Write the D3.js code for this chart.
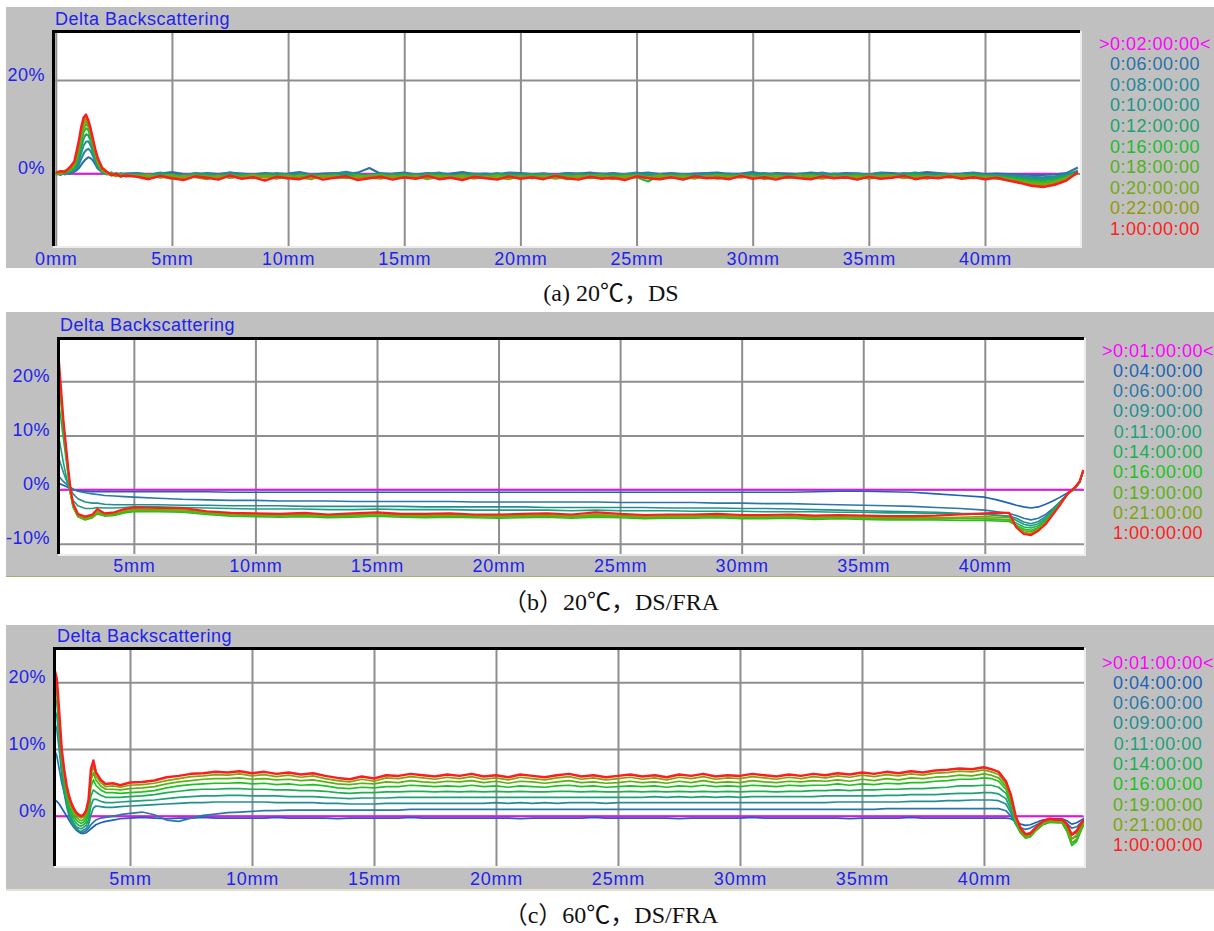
<!DOCTYPE html>
<html>
<head>
<meta charset="utf-8">
<script src="https://cdn.jsdelivr.net/npm/d3@7/dist/d3.min.js"></script>
<style>
  html, body { margin: 0; padding: 0; background: #ffffff; }
  svg { display: block; }
</style>
</head>
<body>
<svg id="chart" width="1214" height="931"></svg>
<script>
// ---------- Tick labels ----------
const xTicksA = [0, 5, 10, 15, 20, 25, 30, 35, 40];
const xTicksBC = [5, 10, 15, 20, 25, 30, 35, 40];
const yTicksA = [0, 20];
const yTicksB = [-10, 0, 10, 20];
const yTicksC = [0, 10, 20];

// ---------- Scan times (legend) ----------
const legendA = ['>0:02:00:00<', '0:06:00:00', '0:08:00:00', '0:10:00:00', '0:12:00:00',
                 '0:16:00:00', '0:18:00:00', '0:20:00:00', '0:22:00:00', '1:00:00:00'];
const legendB = ['>0:01:00:00<', '0:04:00:00', '0:06:00:00', '0:09:00:00', '0:11:00:00',
                 '0:14:00:00', '0:16:00:00', '0:19:00:00', '0:21:00:00', '1:00:00:00'];
const legendC = legendB.slice();

const colorsA = ['#ff00ff', '#2a72a6', '#27879c', '#22948a', '#20a06c', '#1fbb2c', '#4fb21c', '#74a814', '#8f9a0c', '#ff1c1c'];
const colorsBC = ['#ff00ff', '#1e62b6', '#2a78a8', '#238e90', '#1fa07a', '#1daf52', '#1ec21e', '#5cb014', '#7ea40a', '#ff1c1c'];

const captionA = '(a) 20℃，DS';
const captionB = '（b）20℃，DS/FRA';
const captionC = '（c）60℃，DS/FRA';

// ---------- Panel (a): 20℃, DS ----------
// sample positions along the tube height (mm)
const mmA = [0,0.2,0.4,0.6,0.8,0.9,1.0,1.1,1.2,1.3,1.4,1.5,1.6,1.7,1.8,2.0,2.2,2.4,2.6,2.8,3.0,
  3.5,4,4.5,5,5.5,6,6.5,7,7.5,8,8.5,9,9.5,10,10.5,11,11.5,12,12.5,13,13.5,14,14.5,15,15.5,16,16.5,17,17.5,18,
  18.5,19,19.5,20,20.5,21,21.5,22,22.5,23,23.5,24,24.5,25,25.5,26,26.5,27,27.5,28,28.5,29,29.5,30,30.5,31,31.5,32,
  32.5,33,33.5,34,34.5,35,35.5,36,36.5,37,37.5,38,38.5,39,39.5,40,40.5,41,41.5,42,42.5,43,43.5,44];
const refMmA = [0, 44];
const refA = [0, 0];

const a06 = [0.1,-0.3,0.2,0.0,0.4,0.7,1.2,1.9,2.6,3.1,3.5,3.3,2.8,2.0,1.1,0.3,-0.1,0.2,-0.3,-0.1,0.0,
  0.1,-0.2,0.0,0.3,-0.1,-0.3,0.1,-0.1,0.2,0.0,
  -0.2,0.1,-0.1,0.0,0.3,-0.2,0.0,0.1,-0.1,0.2,
  1.2,-0.1,0.0,0.2,-0.2,0.1,-0.1,0.0,0.3,-0.1,
  0.0,-0.2,0.2,0.1,-0.1,0.0,-0.3,0.1,0.0,0.2,
  -0.1,0.1,-0.2,0.0,0.2,-0.1,0.1,-0.2,0.0,0.1,
  0.2,-0.1,0.0,0.3,-0.2,0.1,0.0,-0.1,0.2,0.0,
  -0.1,0.1,0.0,-0.2,0.2,0.1,-0.1,0.0,0.3,0.1,
  -0.1,0.0,0.2,-0.1,0.0,-0.1,-0.2,-0.3,-0.3,-0.2,0.1,1.3];
const a08 = [-0.1,0.3,-0.2,0.5,0.6,1.1,2.0,3.2,4.3,5.0,5.3,4.8,3.8,2.6,1.4,0.2,0.3,-0.2,-0.5,0.1,-0.4,
  0.0,-0.3,0.2,-0.2,-0.4,0.1,-0.1,-0.3,0.2,-0.2,
  -0.4,0.0,-0.1,-0.3,0.1,-0.2,-0.4,0.0,0.4,-0.1,
  -0.3,0.1,-0.2,0.0,-0.4,-0.1,0.2,-0.3,-0.1,0.0,
  -0.2,-0.4,0.1,-0.1,-0.3,0.0,-0.2,0.1,-0.3,-0.1,
  0.0,-0.3,-0.1,0.2,-0.2,-0.4,0.0,-0.1,-0.3,0.1,
  -0.2,0.0,-0.3,-0.1,0.1,-0.2,-0.4,0.0,-0.1,0.2,
  -0.3,-0.1,0.0,-0.2,0.1,-0.3,-0.1,0.2,-0.2,0.0,
  -0.3,-0.1,0.1,-0.2,-0.3,-0.4,-0.5,-0.7,-0.8,-0.6,-0.2,0.6];
const a10 = [0.2,-0.1,0.4,0.3,0.8,1.6,2.9,4.5,6.0,6.8,6.9,6.0,4.6,3.0,1.6,0.4,0.0,-0.4,0.1,-0.3,-0.2,
  -0.1,-0.4,0.1,-0.3,-0.5,-0.2,0.0,-0.4,-0.6,-0.1,
  -0.3,-0.5,0.1,-0.2,-0.4,-0.1,-0.6,-0.3,0.0,-0.4,
  -0.2,-0.5,-0.1,-0.3,-0.6,0.0,-0.2,-0.4,-0.1,-0.5,
  -0.3,0.1,-0.4,-0.2,-0.5,-0.1,-0.3,-0.6,0.0,-0.2,
  -0.4,-0.1,-0.5,-0.3,0.0,-0.2,-0.6,-0.1,-0.4,-0.3,
  -0.1,-0.5,-0.2,0.0,-0.4,-0.3,-0.6,-0.1,-0.2,-0.4,
  0.0,-0.3,-0.5,-0.1,-0.2,-0.4,0.1,-0.3,-0.5,-0.2,
  -0.1,-0.4,-0.2,-0.3,-0.5,-0.6,-0.8,-1.0,-1.1,-0.9,-0.4,0.5];
const a12 = [-0.3,0.2,0.1,0.7,1.1,2.2,3.8,5.8,7.5,8.4,8.2,7.0,5.2,3.4,1.9,0.3,-0.2,0.1,-0.4,0.0,-0.6,
  -0.2,-0.5,0.0,-0.6,-0.3,-0.1,-0.7,-0.4,-0.2,-0.5,
  -0.6,-0.1,-0.4,-0.3,-0.7,-0.2,-0.5,-0.1,-0.6,-0.3,
  -0.4,-0.7,-0.2,-0.5,-0.1,-0.6,-0.3,-0.4,-0.7,-0.2,
  -0.5,-0.2,-0.6,-0.3,-0.1,-0.5,-0.4,-0.7,-0.2,-0.4,
  -0.6,-0.3,-0.1,-0.5,-0.4,-0.7,-0.2,-0.5,-0.3,-0.6,
  -0.2,-0.4,-0.7,-0.3,-0.5,-0.1,-0.6,-0.4,-0.2,-0.5,
  -0.3,-0.6,-0.2,-0.4,-0.7,-0.3,-0.5,-0.1,-0.4,-0.6,
  -0.2,-0.5,-0.3,-0.4,-0.6,-0.8,-1.0,-1.3,-1.4,-1.2,-0.6,0.3];
const a16 = [0.1,0.0,0.6,0.5,1.4,2.8,4.7,7.0,8.9,9.7,9.3,7.8,5.8,3.8,2.2,0.5,0.2,-0.3,0.0,-0.5,-0.3,
  -0.5,-0.2,-0.7,-0.4,-0.8,-0.3,-0.6,-0.5,-0.9,-0.4,
  -0.2,-0.7,-0.5,-0.8,-0.3,-0.6,-0.4,-1.0,-0.5,-0.3,
  -0.7,-0.4,-0.6,-0.2,-0.8,-0.5,-0.3,-0.7,-0.4,-0.6,
  -0.9,-0.3,-0.5,-0.7,-0.4,-0.5,-0.6,-0.3,-0.8,-0.5,
  -0.3,-0.6,-0.4,-0.8,-1.7,-0.2,-0.7,-0.4,-0.6,-0.9,
  -0.4,-0.5,-0.3,-0.7,-0.5,-0.8,-0.4,-0.6,-0.3,-0.7,
  -0.5,-0.8,-0.3,-0.6,-0.4,-0.7,-0.5,-0.3,-0.8,-0.5,
  -0.4,-0.6,-0.3,-0.7,-0.6,-0.9,-1.3,-1.6,-1.8,-1.5,-0.8,0.1];
const a18 = [-0.2,0.4,0.2,0.9,1.7,3.3,5.4,7.8,9.8,10.6,10.0,8.3,6.2,4.2,2.5,0.6,-0.1,0.2,-0.6,-0.1,-0.5,
  -0.3,-0.8,-0.5,-0.2,-0.9,-0.6,-0.4,-0.8,-0.3,-0.7,
  -0.9,-0.4,-0.6,-0.3,-1.0,-0.5,-0.7,-0.4,-0.9,-0.6,
  -0.5,-0.2,-0.8,-0.6,-0.4,-0.9,-0.5,-0.7,-0.3,-0.8,
  -0.6,-1.0,-0.4,-0.7,-0.5,-0.8,-0.3,-0.6,-0.9,-0.5,
  -0.4,-0.8,-0.6,-0.3,-0.9,-0.5,-0.7,-0.4,-0.8,-0.6,
  -0.3,-0.7,-0.5,-0.9,-0.4,-0.6,-0.8,-0.3,-0.7,-0.5,
  -0.8,-0.4,-0.6,-0.9,-0.5,-0.3,-0.7,-0.6,-0.4,-0.8,
  -0.5,-0.3,-0.7,-0.6,-0.8,-1.1,-1.5,-1.8,-2.0,-1.7,-0.9,0.0];
const a20 = [0.3,-0.2,0.5,0.8,2.0,3.8,6.0,8.6,10.6,11.3,10.5,8.8,6.6,4.6,2.8,0.8,0.3,-0.4,-0.2,-0.7,-0.2,
  -0.6,-0.3,-0.9,-0.5,-1.0,-0.4,-0.7,-1.0,-0.5,-0.8,
  -0.3,-0.9,-0.6,-1.1,-0.4,-0.7,-0.9,-0.5,-0.8,-1.0,
  -0.4,-0.7,-0.9,-0.6,-1.0,-0.3,-0.8,-0.6,-1.1,-0.5,
  -0.8,-0.4,-0.9,-0.7,-1.0,-0.5,-0.6,-1.2,-0.7,-0.4,
  -0.9,-0.6,-1.0,-0.5,-0.8,-0.4,-0.9,-0.7,-1.1,-0.5,
  -0.6,-0.9,-0.4,-0.8,-1.0,-0.5,-0.7,-0.9,-0.4,-0.8,
  -0.6,-0.9,-1.0,-0.4,-0.7,-0.8,-0.5,-1.0,-0.6,-0.8,
  -0.5,-0.9,-0.6,-1.0,-0.8,-1.2,-1.7,-2.1,-2.3,-1.9,-1.0,0.2];
const a22 = [0.0,0.3,0.6,1.0,2.3,4.2,6.6,9.3,11.3,11.9,11.0,9.1,7.0,4.9,3.1,1.0,0.1,-0.2,-0.5,-0.3,-0.6,
  -0.4,-0.9,-0.6,-1.1,-0.5,-0.8,-1.2,-0.4,-0.9,-0.7,
  -1.0,-0.5,-1.1,-0.6,-0.9,-1.2,-0.4,-0.8,-1.0,-0.6,
  -0.9,-1.1,-0.5,-1.0,-0.7,-1.2,-0.6,-0.8,-0.5,-1.1,
  -0.7,-0.9,-1.2,-0.5,-1.0,-0.6,-1.1,-0.8,-0.5,-1.0,
  -0.8,-1.2,-0.6,-0.9,-0.7,-1.0,-0.5,-1.1,-0.9,-0.6,
  -1.1,-0.7,-0.9,-0.5,-1.2,-0.8,-1.0,-0.6,-0.9,-1.1,
  -0.7,-1.0,-0.6,-1.1,-0.8,-0.5,-1.0,-0.7,-1.1,-0.6,
  -0.9,-0.7,-1.0,-0.8,-1.1,-1.4,-1.9,-2.4,-2.6,-2.1,-1.2,0.1];
const a100 = [0.2,0.5,0.4,1.3,2.6,4.8,7.2,10.0,12.0,12.6,11.4,9.6,7.4,5.2,3.4,1.2,0.4,-0.3,-0.1,-0.6,-0.4,
  -0.7,-1.2,-0.5,-1.0,-1.4,-0.6,-0.9,-1.3,-0.4,-1.1,
  -0.8,-1.5,-0.7,-1.0,-1.2,-0.5,-1.3,-0.9,-0.6,-1.4,
  -1.0,-0.7,-1.3,-0.8,-1.1,-0.5,-1.2,-0.9,-1.4,-0.7,
  -1.0,-1.3,-0.6,-1.1,-0.8,-1.2,-0.5,-1.0,-1.3,-0.7,
  -1.1,-0.9,-1.4,-0.6,-1.0,-1.2,-0.8,-1.3,-0.6,-1.0,
  -0.9,-1.2,-0.5,-1.1,-0.8,-1.3,-0.7,-1.0,-1.2,-0.6,
  -1.0,-0.8,-1.3,-0.7,-1.1,-0.9,-0.5,-1.2,-0.8,-1.0,
  -0.6,-1.1,-0.8,-1.2,-0.9,-1.5,-2.0,-2.6,-2.9,-2.4,-1.5,0.3];

// ---------- Panel (b): 20℃, DS/FRA ----------
const mmB = [1.9,2.0,2.1,2.2,2.3,2.4,2.5,2.7,3.0,3.3,3.5,3.8,4.2,4.6,
  5,6,7,8,9,10,11,12,13,14,15,16,17,18,19,20,21,22,23,24,25,26,27,28,29,30,31,32,33,34,35,36,37,38,39,40,
  40.5,41,41.3,41.6,41.9,42.2,42.5,42.8,43.1,43.4,43.7,43.9,44.05];
const refMmB = [1.9, 44.05];
const refB = [0, 0];

const b04 = [1.2,1.0,0.8,0.6,0.4,0.2,0.0,-0.2,-0.3,-0.4,-0.4,-0.4,-0.4,-0.4,
  -0.4,-0.4,-0.4,-0.4,-0.5,-0.5,-0.5,-0.5,-0.5,-0.5,-0.5,-0.5,-0.5,-0.5,-0.5,-0.5,-0.5,-0.5,-0.5,-0.5,
  -0.5,-0.5,-0.5,-0.5,-0.5,-0.5,-0.5,-0.5,-0.4,-0.3,-0.3,-0.4,-0.5,-0.8,-1.1,-1.4,
  -1.9,-2.5,-2.9,-3.2,-3.4,-3.2,-2.7,-2.1,-1.4,-0.6,0.1,1.3,3.4];
const b06 = [2.5,2.0,1.5,1.1,0.7,0.4,0.1,-0.3,-0.6,-0.8,-0.9,-1.1,-1.2,-1.3,
  -1.4,-1.6,-1.8,-1.9,-2.0,-2.0,-2.1,-2.1,-2.1,-2.2,-2.2,-2.2,-2.2,-2.2,-2.3,-2.3,-2.3,-2.3,-2.3,-2.3,
  -2.4,-2.4,-2.4,-2.4,-2.5,-2.5,-2.6,-2.6,-2.7,-2.8,-2.9,-3.0,-3.1,-3.3,-3.5,-3.8,
  -4.1,-4.4,-4.8,-5.3,-5.6,-5.3,-4.6,-3.5,-2.2,-0.8,0.1,1.3,3.4];
const b09 = [6.0,4.6,3.2,2.0,0.9,0.0,-0.8,-1.7,-2.3,-2.5,-2.5,-2.7,-2.8,-2.8,
  -2.8,-2.8,-2.9,-2.9,-3.0,-3.0,-3.0,-3.1,-3.1,-3.1,-3.1,-3.1,-3.2,-3.2,-3.2,-3.2,-3.2,-3.3,-3.3,-3.3,
  -3.3,-3.3,-3.4,-3.4,-3.4,-3.5,-3.5,-3.6,-3.7,-3.8,-3.9,-4.0,-4.1,-4.2,-4.4,-4.5,
  -4.7,-4.9,-5.3,-6.0,-6.3,-5.9,-5.0,-3.7,-2.3,-0.8,0.2,1.4,3.5];
const b11 = [10.0,7.5,5.0,2.8,0.8,-0.9,-2.0,-3.0,-3.5,-3.5,-3.3,-3.4,-3.4,-3.3,
  -3.2,-3.2,-3.3,-3.4,-3.5,-3.6,-3.6,-3.6,-3.7,-3.7,-3.6,-3.7,-3.7,-3.7,-3.8,-3.8,-3.8,-3.8,-3.9,-3.8,
  -3.9,-3.9,-3.9,-4.0,-4.0,-4.0,-4.1,-4.1,-4.1,-4.2,-4.2,-4.3,-4.3,-4.4,-4.5,-4.6,
  -4.8,-5.0,-5.7,-6.4,-6.7,-6.3,-5.3,-3.9,-2.4,-0.8,0.2,1.4,3.5];
const b14 = [16.0,13.0,9.5,6.0,2.4,-0.8,-3.0,-4.6,-5.2,-4.9,-4.4,-4.6,-4.5,-4.1,
  -3.9,-3.9,-4.0,-4.3,-4.5,-4.6,-4.7,-4.6,-4.8,-4.7,-4.6,-4.7,-4.8,-4.7,-4.8,-4.9,-4.8,-4.8,-4.9,-4.8,
  -4.9,-5.0,-4.9,-5.0,-4.9,-5.0,-5.0,-5.0,-5.1,-5.1,-5.1,-5.2,-5.2,-5.3,-5.3,-5.4,
  -5.5,-5.6,-6.2,-6.9,-7.1,-6.7,-5.6,-4.1,-2.5,-0.9,0.2,1.4,3.5];
const b16 = [20.0,16.0,11.2,7.0,2.8,-1.0,-3.3,-5.0,-5.6,-5.2,-4.5,-4.9,-4.8,-4.3,
  -4.1,-4.1,-4.2,-4.6,-4.9,-5.0,-5.1,-5.0,-5.2,-5.1,-4.9,-5.1,-5.2,-5.1,-5.2,-5.3,-5.2,-5.1,-5.3,-5.1,
  -5.2,-5.4,-5.3,-5.3,-5.2,-5.4,-5.4,-5.3,-5.5,-5.4,-5.5,-5.6,-5.6,-5.6,-5.7,-5.7,
  -5.8,-5.9,-6.6,-7.3,-7.5,-7.0,-5.8,-4.3,-2.6,-0.9,0.3,1.4,3.5];
const b19 = [22.0,17.2,12.0,7.6,3.2,-0.8,-3.2,-5.0,-5.5,-5.1,-4.3,-4.8,-4.6,-4.1,
  -3.9,-3.9,-4.0,-4.4,-4.7,-4.8,-4.9,-4.8,-5.0,-4.9,-4.7,-4.9,-5.0,-4.9,-5.0,-5.1,-5.0,-4.9,-5.1,-4.9,
  -5.0,-5.2,-5.1,-5.1,-5.0,-5.2,-5.2,-5.1,-5.3,-5.2,-5.3,-5.4,-5.4,-5.4,-5.4,-5.4,
  -5.5,-5.6,-6.8,-7.6,-7.8,-7.2,-6.0,-4.4,-2.7,-0.9,0.3,1.5,3.6];
const b21 = [23.0,18.0,12.5,8.0,3.6,-0.4,-2.9,-4.8,-5.3,-4.9,-4.0,-4.6,-4.4,-3.9,
  -3.6,-3.7,-3.7,-4.2,-4.5,-4.6,-4.7,-4.5,-4.8,-4.6,-4.5,-4.7,-4.8,-4.7,-4.8,-4.9,-4.8,-4.7,-4.9,-4.6,
  -4.8,-5.0,-4.9,-4.9,-4.8,-5.0,-5.0,-4.9,-5.1,-5.0,-5.1,-5.2,-5.2,-5.2,-5.1,-5.0,
  -5.1,-5.2,-6.9,-7.9,-8.1,-7.4,-6.2,-4.5,-2.7,-0.8,0.4,1.5,3.6];
const b100 = [24.8,19.0,13.0,8.5,4.0,0.0,-2.5,-4.5,-5.0,-4.6,-3.6,-4.4,-4.2,-3.6,
  -3.3,-3.4,-3.4,-4.0,-4.3,-4.4,-4.5,-4.3,-4.6,-4.4,-4.2,-4.5,-4.5,-4.4,-4.6,-4.6,-4.5,-4.4,-4.6,-4.2,
  -4.5,-4.7,-4.6,-4.6,-4.5,-4.7,-4.7,-4.6,-4.8,-4.7,-4.8,-4.9,-4.9,-4.8,-4.6,-4.4,
  -4.3,-4.3,-7.0,-8.2,-8.4,-7.6,-6.4,-4.6,-2.8,-0.8,0.4,1.5,3.6];

// ---------- Panel (c): 60℃, DS/FRA ----------
const mmC = [1.9,2.0,2.1,2.2,2.3,2.4,2.5,2.6,2.7,2.8,2.9,3.0,3.1,3.2,3.3,3.4,3.5,3.6,3.8,4.0,4.3,4.6,
  5,5.5,6,6.5,7,7.5,8,8.5,9,9.5,10,10.5,11,11.5,12,12.5,13,13.5,14,14.5,15,15.5,16,16.5,17,17.5,18,18.5,19,19.5,
  20,20.5,21,21.5,22,22.5,23,23.5,24,24.5,25,25.5,26,26.5,27,27.5,28,28.5,29,29.5,30,30.5,31,31.5,32,32.5,33,33.5,
  34,34.5,35,35.5,36,36.5,37,37.5,38,38.5,39,39.5,40,
  40.3,40.6,40.9,41.1,41.3,41.5,41.7,41.9,42.1,42.4,42.7,43.0,43.2,43.4,43.6,43.8,44.0,44.1];
const refMmC = [1.9, 44.05];
const refC = [0, 0];

const c04 = [2.4,2.2,1.8,1.2,0.6,0.0,-0.6,-1.2,-1.7,-2.1,-2.4,-2.6,-2.6,-2.5,-2.2,-1.9,-1.6,-1.3,-1.0,-0.8,-0.6,-0.4,
  -0.3,-0.2,-0.3,-0.4,-0.3,-0.3,-0.2,-0.3,-0.3,-0.3,
  -0.3,-0.3,-0.2,-0.3,-0.3,-0.3,-0.3,-0.4,-0.3,-0.3,
  -0.3,-0.3,-0.3,-0.2,-0.3,-0.3,-0.3,-0.3,-0.3,-0.3,
  -0.3,-0.3,-0.4,-0.3,-0.3,-0.3,-0.3,-0.3,-0.2,-0.3,
  -0.3,-0.3,-0.3,-0.3,-0.3,-0.4,-0.3,-0.3,-0.3,-0.3,
  -0.3,-0.2,-0.3,-0.3,-0.3,-0.3,-0.3,-0.3,-0.3,-0.4,
  -0.3,-0.3,-0.3,-0.3,-0.2,-0.3,-0.3,-0.3,-0.3,-0.3,-0.3,
  -0.3,-0.3,-0.3,-0.4,-0.8,-1.2,-1.4,-1.3,-1.0,-0.6,-0.4,-0.4,-0.4,-0.7,-1.2,-1.0,-0.6,-0.3];
const c06 = [9.9,9.0,7.0,5.0,3.5,2.0,0.5,-0.5,-1.2,-1.8,-2.2,-2.5,-2.4,-2.2,-1.8,-1.3,-0.9,-0.6,-0.3,-0.2,0.0,0.2,
  0.4,0.6,0.2,-0.6,-0.8,-0.3,0.1,0.3,0.5,0.6,
  0.7,0.8,0.8,0.9,0.9,0.9,0.9,0.9,0.9,0.9,
  0.9,0.9,0.9,1.0,1.0,1.0,1.0,1.0,1.0,1.0,
  1.0,1.0,1.0,1.0,1.0,1.0,1.0,1.0,1.0,1.0,
  1.0,1.0,1.0,1.0,1.0,1.0,1.0,1.0,1.0,1.0,
  1.0,1.0,1.0,1.0,1.0,1.0,1.0,1.0,1.0,1.0,
  1.0,1.0,1.1,1.1,1.1,1.1,1.1,1.1,1.1,1.1,1.1,
  1.1,1.1,0.8,0.0,-1.0,-1.7,-2.0,-1.8,-1.4,-0.8,-0.5,-0.6,-0.6,-1.1,-1.8,-1.6,-0.9,-0.5];
const c09 = [14.0,13.0,9.8,6.2,3.5,1.5,0.0,-1.0,-1.6,-2.0,-2.2,-2.3,-2.1,-1.9,-1.3,0.2,1.2,1.5,1.4,1.3,1.3,1.4,
  1.5,1.6,1.7,1.8,1.9,2.0,2.0,2.1,2.1,2.1,
  2.1,2.1,2.0,2.0,2.0,2.0,1.9,1.9,1.8,1.8,
  1.8,1.9,1.9,1.9,1.9,1.9,1.9,1.9,1.9,1.9,
  2.0,1.9,2.0,1.9,2.0,1.9,2.0,2.0,2.0,1.9,
  2.0,2.0,2.0,2.0,2.0,2.0,2.0,2.0,2.0,2.0,
  2.0,2.0,2.0,2.0,2.0,2.0,2.0,2.0,2.1,2.1,
  2.1,2.1,2.1,2.1,2.2,2.2,2.2,2.3,2.3,2.4,2.4,
  2.4,2.3,1.8,0.5,-1.2,-2.2,-2.7,-2.5,-1.9,-1.1,-0.7,-0.8,-0.8,-1.6,-2.8,-2.5,-1.3,-0.8];
const c11 = [16.0,15.0,11.4,7.2,4.3,2.2,0.6,-0.5,-1.1,-1.6,-1.8,-1.9,-1.7,-1.4,-0.6,1.6,2.5,2.5,2.2,2.0,2.0,2.1,
  2.2,2.3,2.4,2.6,2.8,2.9,3.0,3.0,3.1,3.1,
  3.0,3.0,3.0,2.9,2.9,2.9,2.8,2.7,2.6,2.7,
  2.7,2.7,2.8,2.8,2.8,2.8,2.8,2.8,2.8,2.8,
  2.8,2.8,2.8,2.8,2.8,2.8,2.8,2.8,2.8,2.8,
  2.8,2.8,2.8,2.9,2.8,2.9,2.8,2.9,2.8,2.9,
  2.8,2.9,2.9,2.9,2.9,2.9,2.9,3.0,3.0,3.0,
  3.0,3.0,3.1,3.1,3.2,3.2,3.2,3.3,3.4,3.4,3.5,
  3.5,3.3,2.6,1.0,-1.2,-2.4,-3.0,-2.8,-2.1,-1.2,-0.8,-0.9,-0.9,-1.9,-3.4,-3.0,-1.6,-1.0];
const c14 = [18.0,17.0,12.8,8.0,5.0,2.8,1.2,0.1,-0.6,-1.1,-1.4,-1.5,-1.3,-0.9,0.3,3.0,3.9,3.6,3.1,2.8,2.8,2.8,
  2.9,3.0,3.2,3.5,3.7,3.9,4.0,4.0,4.1,4.1,
  4.0,4.0,3.9,3.9,3.8,3.8,3.7,3.5,3.4,3.5,
  3.5,3.6,3.6,3.7,3.7,3.6,3.7,3.6,3.7,3.6,
  3.7,3.6,3.7,3.6,3.6,3.7,3.7,3.6,3.7,3.6,
  3.6,3.7,3.6,3.7,3.6,3.7,3.6,3.7,3.6,3.7,
  3.6,3.7,3.7,3.6,3.7,3.7,3.8,3.8,3.9,3.8,
  3.9,3.9,4.0,4.0,4.1,4.1,4.2,4.3,4.5,4.5,4.6,
  4.6,4.3,3.4,1.6,-1.1,-2.5,-3.2,-3.0,-2.2,-1.3,-0.9,-1.0,-1.0,-2.2,-4.0,-3.6,-1.9,-1.1];
const c16 = [19.5,18.3,13.8,8.7,5.7,3.3,1.7,0.6,-0.1,-0.6,-0.9,-1.1,-0.9,-0.4,1.0,4.4,5.4,4.6,3.9,3.5,3.5,3.4,
  3.5,3.6,3.8,4.2,4.5,4.7,4.8,4.9,4.9,5.0,
  4.8,4.9,4.7,4.8,4.6,4.7,4.5,4.2,4.1,4.3,
  4.2,4.4,4.4,4.6,4.5,4.4,4.5,4.4,4.6,4.4,
  4.5,4.3,4.5,4.4,4.3,4.5,4.6,4.4,4.5,4.3,
  4.4,4.5,4.4,4.5,4.3,4.5,4.4,4.6,4.4,4.5,
  4.4,4.6,4.5,4.4,4.6,4.5,4.6,4.6,4.8,4.6,
  4.8,4.7,4.9,4.8,5.0,5.0,5.2,5.3,5.5,5.5,5.7,
  5.6,5.2,4.0,2.0,-0.9,-2.5,-3.3,-3.1,-2.3,-1.3,-0.9,-1.0,-1.0,-2.3,-4.4,-3.8,-2.0,-1.2];
const c19 = [20.5,19.2,14.4,9.2,6.2,3.8,2.2,1.1,0.3,-0.2,-0.5,-0.7,-0.5,0.1,1.6,5.4,6.5,5.4,4.5,4.0,4.0,3.9,
  4.1,4.2,4.4,4.8,5.1,5.3,5.5,5.6,5.6,5.7,
  5.5,5.6,5.4,5.5,5.3,5.4,5.1,4.8,4.7,4.9,
  4.8,5.1,5.0,5.3,5.1,5.0,5.2,5.1,5.3,5.0,
  5.2,4.9,5.2,5.1,4.9,5.1,5.3,5.0,5.1,4.9,
  5.0,5.2,5.0,5.1,4.9,5.2,5.0,5.3,5.0,5.1,
  5.0,5.3,5.1,5.0,5.2,5.1,5.3,5.2,5.4,5.2,
  5.5,5.3,5.6,5.4,5.7,5.6,5.8,5.9,6.1,6.0,6.3,
  6.1,5.7,4.4,2.4,-0.6,-2.3,-3.2,-3.0,-2.2,-1.2,-0.8,-0.9,-0.9,-2.0,-4.0,-3.4,-1.8,-1.0];
const c21 = [21.5,20.0,15.0,9.6,6.6,4.2,2.6,1.5,0.7,0.2,-0.1,-0.3,-0.1,0.5,2.0,6.2,7.4,6.0,5.0,4.4,4.5,4.3,
  4.6,4.7,4.9,5.3,5.6,5.9,6.0,6.2,6.1,6.3,
  6.0,6.2,5.9,6.1,5.8,6.0,5.6,5.3,5.1,5.5,
  5.2,5.7,5.6,5.9,5.7,5.5,5.8,5.6,5.9,5.5,
  5.7,5.4,5.8,5.6,5.4,5.7,5.9,5.5,5.7,5.4,
  5.6,5.8,5.5,5.7,5.4,5.8,5.6,5.9,5.5,5.7,
  5.6,5.9,5.7,5.5,5.8,5.6,5.9,5.7,6.0,5.8,
  6.1,5.9,6.2,6.0,6.3,6.1,6.4,6.5,6.7,6.6,6.9,
  6.6,6.2,4.8,2.8,-0.3,-2.1,-3.0,-2.8,-2.0,-1.0,-0.6,-0.8,-0.7,-1.6,-3.4,-2.8,-1.4,-0.8];
const c100 = [22.0,20.5,15.5,10.0,7.0,4.6,3.0,1.9,1.1,0.5,0.2,0.0,0.2,0.8,2.4,7.0,8.3,6.6,5.4,4.8,4.9,4.6,
  5.0,5.1,5.3,5.8,6.0,6.3,6.4,6.6,6.5,6.7,
  6.4,6.6,6.3,6.5,6.2,6.4,6.0,5.7,5.5,5.9,
  5.6,6.1,6.0,6.3,6.1,5.9,6.2,6.0,6.3,5.9,
  6.1,5.8,6.2,6.0,5.8,6.1,6.3,5.9,6.1,5.8,
  6.0,6.2,5.9,6.1,5.8,6.2,6.0,6.3,5.9,6.1,
  6.0,6.3,6.1,5.9,6.2,6.0,6.3,6.1,6.4,6.2,
  6.5,6.3,6.6,6.4,6.7,6.5,6.8,6.9,7.1,7.0,7.3,
  7.0,6.6,5.2,3.2,0.0,-1.8,-2.7,-2.6,-1.8,-0.8,-0.4,-0.6,-0.5,-1.2,-2.8,-2.2,-1.0,-0.6];

// ---------- Layout of the three panels ----------
const panels = [
  {
    box: [6, 7, 1208, 261], plot: { l: 53, t: 31, r: 1080, b: 246 },
    xDomain: [-0.12, 44.09], yDomain: [-15.5, 30.5],
    xTicks: xTicksA, yTicks: yTicksA,
    mm: mmA, refMm: refMmA, ref: refA,
    series: [a06, a08, a10, a12, a16, a18, a20, a22, a100],
    labels: legendA, colors: colorsA,
    titleX: 55, titleY: 25, yLabelRight: 45, xLabelOffset: 19,
    legendX: 1155, legendY0: 43, legendStep: 20.6,
    lineW: 2.1, topLineW: 2.5,
    caption: captionA, captionY: 301
  },
  {
    box: [6, 312, 1208, 264], plot: { l: 58, t: 338, r: 1084, b: 554 },
    xDomain: [1.88, 44.08], yDomain: [-11.9, 28.0],
    xTicks: xTicksBC, yTicks: yTicksB,
    mm: mmB, refMm: refMmB, ref: refB,
    series: [b04, b06, b09, b11, b14, b16, b19, b21, b100],
    labels: legendB, colors: colorsBC,
    titleX: 60, titleY: 331, yLabelRight: 50, xLabelOffset: 18,
    legendX: 1158, legendY0: 350, legendStep: 20.3,
    lineW: 1.6, topLineW: 2.2,
    caption: captionB, captionY: 610
  },
  {
    box: [6, 625, 1208, 264], plot: { l: 54, t: 648, r: 1084, b: 866 },
    xDomain: [1.885, 44.1], yDomain: [-7.46, 25.1],
    xTicks: xTicksBC, yTicks: yTicksC,
    mm: mmC, refMm: refMmC, ref: refC,
    series: [c04, c06, c09, c11, c14, c16, c19, c21, c100],
    labels: legendC, colors: colorsBC,
    titleX: 57, titleY: 642, yLabelRight: 46, xLabelOffset: 19,
    legendX: 1158, legendY0: 662, legendStep: 20.3,
    lineW: 1.7, topLineW: 2.5,
    caption: captionC, captionY: 923
  }
];

const svg = d3.select('#chart');
const uiFont = '"Liberation Sans", Arial, sans-serif';
const labelBlue = '#2222ee';

panels.forEach((p, pi) => {
  const g = svg.append('g');
  const P = p.plot;
  const x = d3.scaleLinear().domain(p.xDomain).range([P.l, P.r]);
  const y = d3.scaleLinear().domain(p.yDomain).range([P.b, P.t]);

  // grey window background
  g.append('rect')
    .attr('x', p.box[0]).attr('y', p.box[1])
    .attr('width', p.box[2]).attr('height', p.box[3])
    .attr('fill', '#c0c0c0');

  // white plotting area
  g.append('rect')
    .attr('x', P.l).attr('y', P.t)
    .attr('width', P.r - P.l).attr('height', P.b - P.t)
    .attr('fill', '#ffffff');

  // vertical grid + x labels
  const gx = g.append('g')
    .attr('transform', `translate(0,${P.b})`)
    .call(d3.axisBottom(x).tickValues(p.xTicks).tickSize(-(P.b - P.t)).tickFormat(d => d + 'mm'));
  gx.select('.domain').remove();
  gx.selectAll('.tick line').attr('stroke', '#8e8e8e').attr('stroke-width', 2);
  gx.selectAll('.tick text')
    .attr('y', p.xLabelOffset).attr('dy', null)
    .attr('fill', labelBlue)
    .style('font-family', uiFont).style('font-size', '18px').style('letter-spacing', '0.8px');

  // horizontal grid + y labels
  const gy = g.append('g')
    .attr('transform', `translate(${P.l},0)`)
    .call(d3.axisLeft(y).tickValues(p.yTicks).tickSize(-(P.r - P.l)).tickFormat(d => d + '%'));
  gy.select('.domain').remove();
  gy.selectAll('.tick line').attr('stroke', '#8e8e8e').attr('stroke-width', 2);
  gy.selectAll('.tick text')
    .attr('x', p.yLabelRight - P.l).attr('dy', null)
    .attr('text-anchor', 'end')
    .attr('fill', labelBlue)
    .style('font-family', uiFont).style('font-size', '18px').style('letter-spacing', '0.5px');

  // curves, clipped to the plotting area
  const clipId = 'clip' + pi;
  svg.append('clipPath').attr('id', clipId)
    .append('rect').attr('x', P.l).attr('y', P.t)
    .attr('width', P.r - P.l).attr('height', P.b - P.t);
  const curves = g.append('g').attr('clip-path', `url(#${clipId})`);
  const line = d3.line().x(d => x(d[0])).y(d => y(d[1]));

  // reference scan (flat 0 %)
  curves.append('path')
    .attr('d', line(d3.zip(p.refMm, p.ref)))
    .attr('fill', 'none').attr('stroke', p.colors[0]).attr('stroke-width', 1.8);

  p.series.forEach((vals, i) => {
    const last = i === p.series.length - 1;
    curves.append('path')
      .attr('d', line(d3.zip(p.mm, vals)))
      .attr('fill', 'none')
      .attr('stroke', p.colors[i + 1])
      .attr('stroke-width', last ? p.topLineW : p.lineW)
      .attr('stroke-linejoin', 'round');
  });

  // sunken frame: dark top/left, light bottom/right
  g.append('path')
    .attr('d', `M${P.l + 0.5},${P.b} L${P.l + 0.5},${P.t + 0.5} L${P.r},${P.t + 0.5}`)
    .attr('fill', 'none').attr('stroke', '#000000').attr('stroke-width', 3);
  g.append('path')
    .attr('d', `M${P.l},${P.b + 1} L${P.r + 1},${P.b + 1} L${P.r + 1},${P.t}`)
    .attr('fill', 'none').attr('stroke', '#ececec').attr('stroke-width', 2);

  // panel title
  g.append('text')
    .attr('x', p.titleX).attr('y', p.titleY)
    .attr('fill', labelBlue)
    .style('font-family', uiFont).style('font-size', '18px').style('letter-spacing', '0.5px')
    .text('Delta Backscattering');

  // legend of scan times
  g.selectAll('text.legend')
    .data(p.labels)
    .enter().append('text')
    .attr('class', 'legend')
    .attr('x', p.legendX)
    .attr('y', (d, i) => p.legendY0 + i * p.legendStep + 6.5)
    .attr('text-anchor', 'middle')
    .attr('fill', (d, i) => p.colors[i])
    .style('font-family', uiFont).style('font-size', '18px').style('letter-spacing', '0.5px')
    .text(d => d);

  // caption under the panel
  svg.append('text')
    .attr('x', 611).attr('y', p.captionY)
    .attr('text-anchor', 'middle')
    .attr('fill', '#111111')
    .style('font-family', '"Liberation Serif", "Times New Roman", "Noto Sans CJK SC", serif')
    .style('font-size', '24px')
    .text(p.caption);
});

// window bottom edges
svg.append('line').attr('x1', 6).attr('x2', 1214).attr('y1', 576.5).attr('y2', 576.5)
  .attr('stroke', '#9fb36e').attr('stroke-width', 1);
svg.append('line').attr('x1', 6).attr('x2', 1214).attr('y1', 890).attr('y2', 890)
  .attr('stroke', '#e6e1d2').attr('stroke-width', 2);
</script>
</body>
</html>
